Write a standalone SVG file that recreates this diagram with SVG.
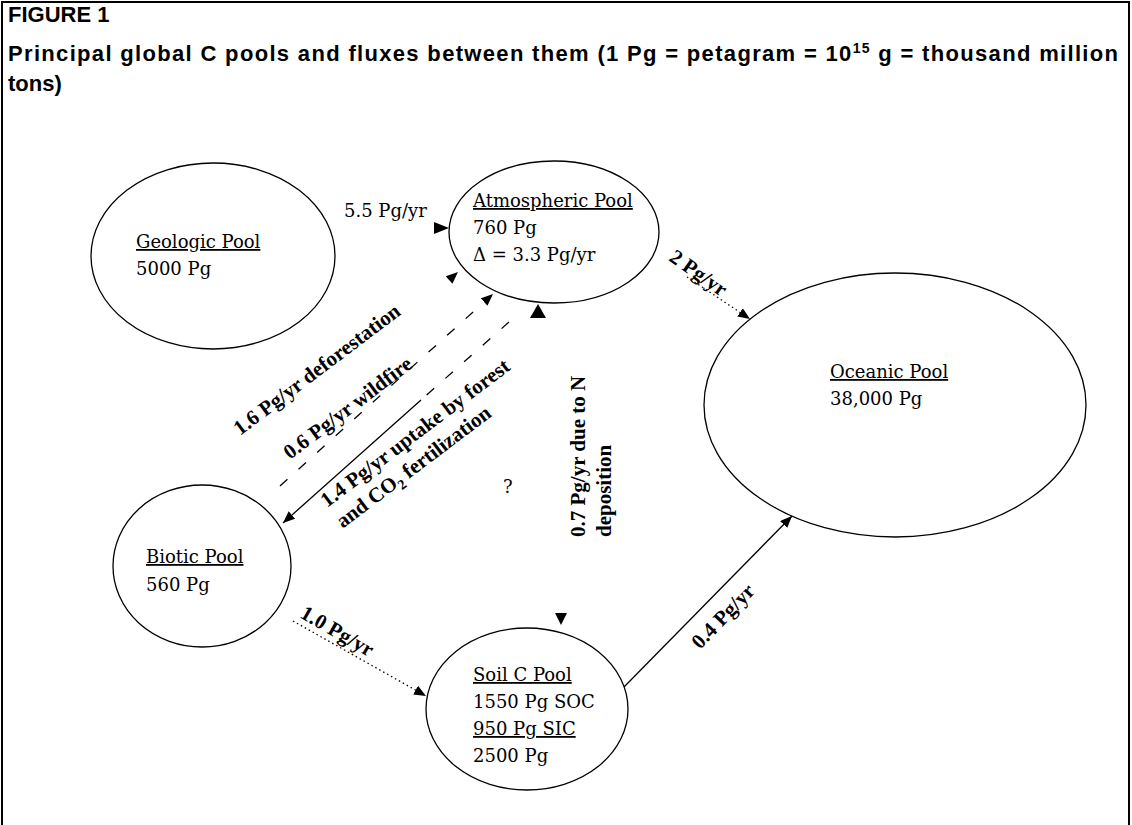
<svg xmlns="http://www.w3.org/2000/svg" width="1132" height="825" viewBox="0 0 1132 825">
<defs>
<style>
.pool{fill:none;stroke:#000;stroke-width:1.3}
.pt{font-family:"DejaVu Serif","Liberation Serif",serif;font-size:18px;fill:#000}
.u{text-decoration:underline}
.lbl{font-family:"Liberation Serif","Times New Roman",serif;font-weight:bold;font-size:21px;fill:#000}
.hdr{font-family:"Liberation Sans",Arial,sans-serif;font-weight:bold;font-size:22px;fill:#000}
.ln{stroke:#000;stroke-width:1.3;fill:none}
.dash{stroke-dasharray:10 15}
.dot{stroke-dasharray:1.5 3}
.ah{fill:#000;stroke:none}
</style>
<marker id="arr" viewBox="0 0 12 10" refX="12" refY="5" markerWidth="12" markerHeight="10" markerUnits="userSpaceOnUse" orient="auto"><path d="M0,0 L12,5 L0,10 z" fill="#000"/></marker>
</defs>
<rect width="1132" height="825" fill="#fff"/>
<rect x="2" y="2" width="1127" height="860" fill="none" stroke="#000" stroke-width="2"/>
<g id="header">
<text class="hdr" x="8" y="22" font-size="17">FIGURE 1</text>
<text class="hdr" x="8" y="61" textLength="1110" lengthAdjust="spacing">Principal global C pools and fluxes between them (1 Pg = petagram = 10<tspan font-size="14" dy="-8">15</tspan><tspan dy="8"> g = thousand million</tspan></text>
<text class="hdr" x="8" y="91">tons)</text>
</g>
<g id="geologic">
<ellipse class="pool" cx="213" cy="256" rx="122" ry="93"/>
<text class="pt u" x="136" y="248">Geologic Pool</text>
<text class="pt" x="136" y="275">5000 Pg</text>
</g>
<g id="atmospheric">
<ellipse class="pool" cx="554" cy="232" rx="105" ry="71"/>
<text class="pt u" x="473" y="207">Atmospheric Pool</text>
<text class="pt" x="473" y="234">760 Pg</text>
<text class="pt" x="473" y="261">Δ = 3.3 Pg/yr</text>
</g>
<g id="oceanic">
<ellipse class="pool" cx="895" cy="405" rx="191" ry="132"/>
<text class="pt u" x="830" y="378">Oceanic Pool</text>
<text class="pt" x="830" y="405">38,000 Pg</text>
</g>
<g id="biotic">
<ellipse class="pool" cx="202" cy="566" rx="89" ry="81"/>
<text class="pt u" x="146" y="563">Biotic Pool</text>
<text class="pt" x="146" y="591">560 Pg</text>
</g>
<g id="soil">
<ellipse class="pool" cx="527" cy="709" rx="101" ry="81"/>
<text class="pt u" x="473" y="681">Soil C Pool</text>
<text class="pt" x="473" y="708">1550 Pg SOC</text>
<text class="pt u" x="473" y="735">950 Pg SIC</text>
<text class="pt" x="473" y="762">2500 Pg</text>
</g>
<g id="connectors">
<polygon class="ah" points="434,222 449,228 434,234"/>
<polygon class="ah" points="458,272 452.4,283.7 445.8,276.3"/>
<line class="ln dash" x1="280" y1="486" x2="493" y2="294" marker-end="url(#arr)"/>
<line class="ln dash" x1="509" y1="322" x2="421" y2="400"/>
<line class="ln" x1="421" y1="400" x2="283" y2="523" marker-end="url(#arr)"/>
<polygon class="ah" points="538,304 546,318 530,318"/>
<polygon class="ah" points="561,625 567,613 555,613"/>
<line class="ln dot" x1="687" y1="277" x2="750" y2="319" marker-end="url(#arr)"/>
<line class="ln dot" x1="293" y1="621" x2="426" y2="696" marker-end="url(#arr)"/>
<line class="ln" x1="624" y1="687" x2="792" y2="516" stroke-width="1.5" marker-end="url(#arr)"/>
</g>
<g id="connector-labels">
<text class="pt" x="344" y="217">5.5 Pg/yr</text>
<text class="lbl" transform="translate(240,436) rotate(-37)">1.6 Pg/yr deforestation</text>
<text class="lbl" transform="translate(290,460) rotate(-37)">0.6 Pg/yr wildfire</text>
<g transform="translate(327,508) rotate(-37)">
<text class="lbl" x="0" y="0">1.4 Pg/yr uptake by forest</text>
<text class="lbl" x="0" y="26">and CO<tspan font-size="14" dy="5">2</tspan><tspan dy="-5"> fertilization</tspan></text>
</g>
<text class="lbl" transform="translate(668,260) rotate(35)">2 Pg/yr</text>
<text class="lbl" transform="translate(299,617) rotate(30)">1.0 Pg/yr</text>
<text class="lbl" transform="translate(700,650) rotate(-46)">0.4 Pg/yr</text>
<g transform="translate(585,537) rotate(-90)">
<text class="lbl" x="0" y="0">0.7 Pg/yr due to N</text>
<text class="lbl" x="0" y="26">deposition</text>
</g>
<text class="pt" x="503" y="493" font-size="16">?</text>
</g>
</svg>
